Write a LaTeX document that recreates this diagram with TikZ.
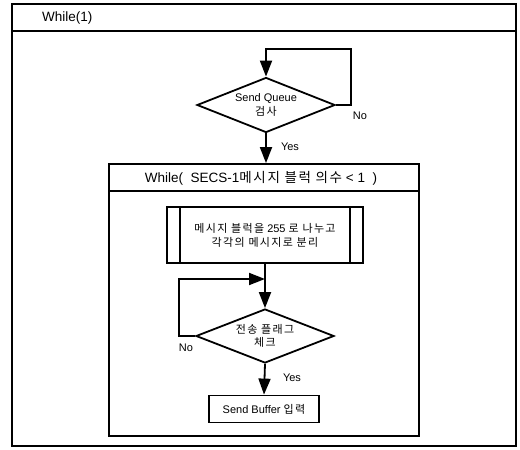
\documentclass[tikz,border=0pt]{standalone}
\usepackage{fontspec}
\setmainfont{Liberation Sans}
\newfontfamily\kr[LetterSpace=12]{Noto Sans CJK KR}
\usetikzlibrary{arrows.meta,shapes.geometric}

\begin{document}
\begin{tikzpicture}[x=1pt, y=-1pt, line width=1.8pt, >={Triangle[length=16pt,width=12pt]},
  frame/.style={draw, rectangle, inner sep=0pt},
  decision/.style={draw, diamond, aspect=2.5, inner sep=0pt, align=center, font=\fontsize{11}{13.5}\selectfont},
  procbox/.style={draw, rectangle, align=center, font=\fontsize{11}{14}\selectfont},
  lbl/.style={font=\fontsize{11}{12}\selectfont}]

\useasboundingbox (0,0) rectangle (520,450);

\node[name=outer, frame, minimum width=504pt, minimum height=442pt] at (264,225) {};
\draw ([yshift=-28pt]outer.north west) -- ([yshift=-28pt]outer.north east);
\node[name=t1, anchor=west, font=\fontsize{13.5}{15}\selectfont] at (38,18) {While(1)};

\node[name=d1, decision, minimum width=138pt, minimum height=55pt] at (266,105) {Send Queue\\{\kr 검사}};

\node[name=inner, frame, minimum width=310pt, minimum height=272pt] at (264,300) {};
\draw ([yshift=-28pt]inner.north west) -- ([yshift=-28pt]inner.north east);
\node[name=t2, font=\fontsize{13.5}{15}\selectfont] at (261,178) {While(\ \ SECS-1{\kr 메시지 블럭 의수} < 1\ \ )};

\node[name=split, procbox, minimum width=196pt, minimum height=56pt] at (265,235) {{\kr 메시지 블럭을} 255 {\kr 로 나누고}\\{\kr 각각의 메시지로 분리}};
\draw ([xshift=14pt]split.north west) -- ([xshift=14pt]split.south west);
\draw ([xshift=-14pt]split.north east) -- ([xshift=-14pt]split.south east);

\node[name=d2, decision, minimum width=138pt, minimum height=54pt] at (265,336) {{\kr 전송 플래그}\\{\kr 체크}};

\node[name=buf, procbox, minimum width=110pt, minimum height=27pt] at (264,409) {Send Buffer {\kr 입력}};

\coordinate (loop1) at (351,49);
\coordinate (loop2) at (179,279);

\draw[->] (d1.east) -| (loop1) -| (d1.north);
\draw[->] (d1.south) -- (d1.south |- inner.north);
\draw[->] (split.south) -- (d2.north);
\draw[->] (d2.west) -| (loop2) -- (loop2 -| d2.north);
\draw[->] (d2.south) -- (buf.north);

\node[name=no1, lbl] at (360,116) {No};
\node[name=yes1, lbl] at (290,147) {Yes};
\node[name=no2, lbl] at (186,348) {No};
\node[name=yes2, lbl] at (292,378) {Yes};
\end{tikzpicture}
\end{document}
